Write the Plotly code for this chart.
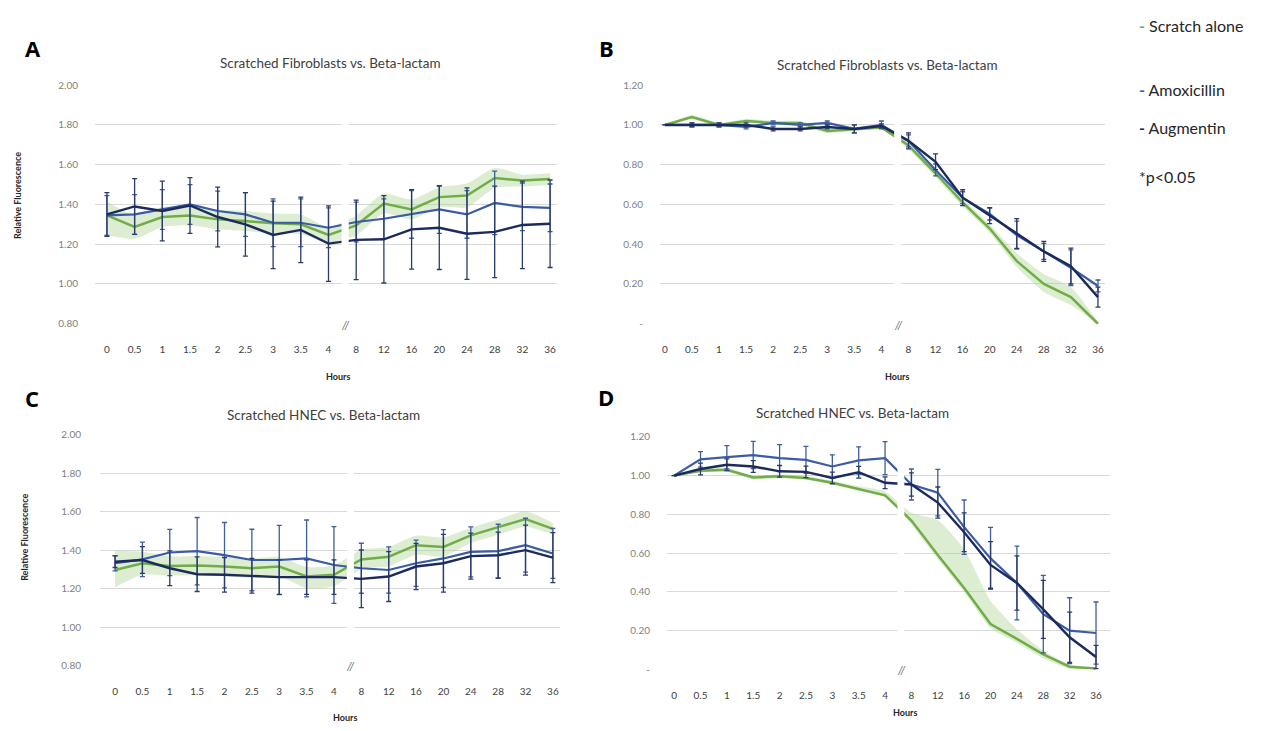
import plotly.graph_objects as go

W, H = 1280, 731

hours = ["0", "0.5", "1", "1.5", "2", "2.5", "3", "3.5", "4",
         "8", "12", "16", "20", "24", "28", "32", "36"]

# Panel A - Scratched Fibroblasts (0.80 - 2.00)
a_scratch = [1.345, 1.287, 1.337, 1.345, 1.325, 1.317, 1.305, 1.300, 1.247,
             1.295, 1.405, 1.375, 1.437, 1.445, 1.533, 1.520, 1.528]
a_scratch_up = [0.07, 0.06, 0.05, 0.05, 0.05, 0.05, 0.05, 0.05, 0.04,
                0.05, 0.05, 0.05, 0.05, 0.06, 0.05, 0.03, 0.03]
a_scratch_dn = [0.10, 0.06, 0.05, 0.05, 0.05, 0.05, 0.05, 0.05, 0.04,
                0.05, 0.05, 0.05, 0.05, 0.06, 0.05, 0.03, 0.03]
a_amox = [1.345, 1.350, 1.375, 1.400, 1.367, 1.350, 1.308, 1.308, 1.283,
          1.312, 1.328, 1.350, 1.375, 1.350, 1.408, 1.388, 1.383]
a_amox_err = [0.10, 0.10, 0.10, 0.10, 0.10, 0.11, 0.12, 0.12, 0.10,
              0.10, 0.10, 0.12, 0.12, 0.12, 0.16, 0.12, 0.12]
a_aug = [1.350, 1.390, 1.367, 1.395, 1.337, 1.300, 1.247, 1.272, 1.203,
         1.222, 1.225, 1.275, 1.283, 1.253, 1.262, 1.297, 1.303]
a_aug_err = [0.11, 0.14, 0.15, 0.14, 0.15, 0.16, 0.17, 0.165, 0.19,
             0.20, 0.22, 0.20, 0.21, 0.23, 0.23, 0.22, 0.22]

# Panel B - Scratched Fibroblasts (0 - 1.20)
b_scratch = [1.00, 1.04, 1.00, 1.02, 1.01, 1.01, 0.97, 0.98, 0.987,
             0.897, 0.757, 0.610, 0.479, 0.315, 0.200, 0.134, 0.00]
b_scratch_up = [0.0, 0.01, 0.01, 0.01, 0.01, 0.01, 0.01, 0.01, 0.01,
                0.02, 0.02, 0.02, 0.02, 0.04, 0.05, 0.05, 0.01]
b_scratch_dn = [0.0, 0.01, 0.01, 0.01, 0.01, 0.01, 0.01, 0.01, 0.01,
                0.02, 0.02, 0.02, 0.02, 0.03, 0.04, 0.04, 0.0]
b_amox = [1.00, 1.00, 1.00, 0.99, 1.01, 1.00, 1.01, 0.98, 1.00,
          0.92, 0.774, 0.634, 0.552, 0.446, 0.364, 0.282, 0.19]
b_amox_err = [0.0, 0.01, 0.01, 0.01, 0.01, 0.01, 0.01, 0.02, 0.02,
              0.03, 0.03, 0.03, 0.03, 0.07, 0.04, 0.09, 0.03]
b_aug = [1.00, 1.00, 1.00, 1.00, 0.98, 0.98, 0.99, 0.98, 0.995,
         0.92, 0.815, 0.634, 0.544, 0.454, 0.364, 0.29, 0.134]
b_aug_err = [0.0, 0.01, 0.01, 0.01, 0.01, 0.01, 0.01, 0.02, 0.01,
             0.04, 0.04, 0.04, 0.04, 0.075, 0.05, 0.09, 0.05]

# Panel C - Scratched HNEC (0.80 - 2.00)
c_scratch = [1.297, 1.332, 1.318, 1.320, 1.315, 1.306, 1.315, 1.263, 1.272,
             1.352, 1.366, 1.426, 1.417, 1.477, 1.520, 1.562, 1.511]
c_scratch_up = [0.10, 0.06, 0.05, 0.05, 0.05, 0.05, 0.05, 0.05, 0.05,
                0.05, 0.05, 0.05, 0.05, 0.04, 0.04, 0.04, 0.03]
c_scratch_dn = [0.09, 0.06, 0.05, 0.05, 0.05, 0.05, 0.05, 0.06, 0.06,
                0.05, 0.05, 0.05, 0.05, 0.04, 0.04, 0.04, 0.03]
c_amox = [1.332, 1.352, 1.388, 1.395, 1.374, 1.349, 1.349, 1.357, 1.323,
          1.306, 1.297, 1.332, 1.357, 1.391, 1.395, 1.426, 1.383]
c_amox_err = [0.04, 0.09, 0.12, 0.175, 0.17, 0.16, 0.18, 0.20, 0.20,
              0.13, 0.12, 0.12, 0.15, 0.13, 0.14, 0.14, 0.13]
c_aug = [1.340, 1.349, 1.306, 1.275, 1.272, 1.267, 1.260, 1.260, 1.260,
         1.251, 1.263, 1.315, 1.332, 1.369, 1.374, 1.400, 1.361]
c_aug_err = [0.03, 0.07, 0.09, 0.09, 0.09, 0.09, 0.09, 0.09, 0.09,
             0.15, 0.13, 0.12, 0.15, 0.12, 0.12, 0.13, 0.13]

# Panel D - Scratched HNEC (0 - 1.20)
d_scratch = [1.00, 1.025, 1.03, 0.99, 0.997, 0.988, 0.963, 0.93, 0.898,
             0.768, 0.59, 0.42, 0.234, 0.158, 0.078, 0.014, 0.005]
d_scratch_up = [0.0, 0.01, 0.01, 0.01, 0.01, 0.01, 0.01, 0.015, 0.02,
                0.04, 0.18, 0.20, 0.12, 0.05, 0.02, 0.01, 0.0]
d_scratch_dn = [0.0, 0.01, 0.01, 0.01, 0.01, 0.01, 0.01, 0.01, 0.01,
                0.02, 0.02, 0.02, 0.02, 0.02, 0.02, 0.01, 0.0]
d_amox = [1.00, 1.084, 1.095, 1.106, 1.09, 1.081, 1.047, 1.078, 1.09,
          0.954, 0.912, 0.734, 0.573, 0.446, 0.285, 0.20, 0.188]
d_amox_err = [0.0, 0.04, 0.06, 0.07, 0.07, 0.07, 0.06, 0.07, 0.085,
              0.08, 0.12, 0.14, 0.16, 0.19, 0.20, 0.17, 0.16]
d_aug = [1.00, 1.034, 1.056, 1.047, 1.022, 1.019, 0.988, 1.017, 0.963,
         0.954, 0.861, 0.708, 0.539, 0.446, 0.31, 0.166, 0.064]
d_aug_err = [0.0, 0.03, 0.03, 0.03, 0.03, 0.03, 0.03, 0.03, 0.03,
             0.06, 0.08, 0.10, 0.12, 0.14, 0.15, 0.13, 0.06]

GREEN = "#70AD47"
BAND = "rgba(169,209,142,0.40)"
AMOX = "#3A5BA6"
AUG = "#1C2B5C"
ERR_AMOX = "#3F5E9C"
ERR_AUG = "#2A3B6B"
GRID = "#D9D9D9"
FONT = "Lato"

idx = list(range(len(hours)))

fig = go.Figure()

panels = [
    ("x", "y", a_scratch, a_scratch_up, a_scratch_dn, a_amox, a_amox_err, a_aug, a_aug_err),
    ("x2", "y2", b_scratch, b_scratch_up, b_scratch_dn, b_amox, b_amox_err, b_aug, b_aug_err),
    ("x3", "y3", c_scratch, c_scratch_up, c_scratch_dn, c_amox, c_amox_err, c_aug, c_aug_err),
    ("x4", "y4", d_scratch, d_scratch_up, d_scratch_dn, d_amox, d_amox_err, d_aug, d_aug_err),
]

for xa, ya, sc, up, dn, am, ame, au, aue in panels:
    fig.add_trace(go.Scatter(x=idx, y=[v + e for v, e in zip(sc, up)], xaxis=xa, yaxis=ya,
                             mode="lines", line=dict(width=0, color=BAND, shape="spline", smoothing=0.6),
                             showlegend=False, hoverinfo="skip"))
    fig.add_trace(go.Scatter(x=idx, y=[v - e for v, e in zip(sc, dn)], xaxis=xa, yaxis=ya,
                             mode="lines", line=dict(width=0, color=BAND, shape="spline", smoothing=0.6),
                             fill="tonexty", fillcolor=BAND, showlegend=False, hoverinfo="skip"))
    fig.add_trace(go.Scatter(x=idx, y=sc, xaxis=xa, yaxis=ya, mode="lines",
                             line=dict(color=GREEN, width=2.5), name="Scratch alone", showlegend=False))
    fig.add_trace(go.Scatter(x=idx, y=am, xaxis=xa, yaxis=ya, mode="lines",
                             line=dict(color=AMOX, width=2.2), name="Amoxicillin", showlegend=False,
                             error_y=dict(type="data", array=ame, visible=True, color=ERR_AMOX,
                                          thickness=1.3, width=2.5)))
    fig.add_trace(go.Scatter(x=idx, y=au, xaxis=xa, yaxis=ya, mode="lines",
                             line=dict(color=AUG, width=2.4), name="Augmentin", showlegend=False,
                             error_y=dict(type="data", array=aue, visible=True, color=ERR_AUG,
                                          thickness=1.3, width=2.5)))


def xdom(l, r):
    return [l / W, r / W]


def ydom(top, bottom):
    return [1 - bottom / H, 1 - top / H]


def xaxis_cfg(dom, rng, anchor):
    return dict(domain=dom, range=rng, anchor=anchor, tickmode="array", tickvals=idx,
                ticktext=hours, ticks="outside", ticklen=16, tickcolor="rgba(0,0,0,0)",
                showgrid=False, zeroline=False, showline=False, fixedrange=True,
                tickfont=dict(family=FONT, size=10, color="#404040"))


def yaxis_cfg(dom, vals, texts, rng, anchor, ticklen):
    return dict(domain=dom, range=rng, anchor=anchor, tickmode="array", tickvals=vals,
                ticktext=texts, ticks="outside", ticklen=ticklen, tickcolor="rgba(0,0,0,0)",
                showgrid=True, gridcolor=GRID, gridwidth=1, zeroline=False, showline=False,
                tickfont=dict(family=FONT, size=10, color="#7F7F7F"))


high_vals = [0.8, 1.0, 1.2, 1.4, 1.6, 1.8, 2.0]
high_text = ["%.2f" % v for v in high_vals]
low_vals = [0.0, 0.2, 0.4, 0.6, 0.8, 1.0, 1.2]
low_text = ["-" if v == 0 else "%.2f" % v for v in low_vals]

fig.update_layout(
    width=W, height=H, margin=dict(l=0, r=0, t=0, b=0),
    paper_bgcolor="white", plot_bgcolor="white", showlegend=False,
    xaxis=xaxis_cfg(xdom(95, 557), [-0.43, 16.25], "y"),
    yaxis=yaxis_cfg(ydom(80, 323), high_vals, high_text, [0.798, 2.002], "x", 14),
    xaxis2=xaxis_cfg(xdom(660, 1105), [-0.18, 16.26], "y2"),
    yaxis2=yaxis_cfg(ydom(80, 323), low_vals, low_text, [-0.002, 1.202], "x2", 14),
    xaxis3=xaxis_cfg(xdom(100, 560), [-0.55, 16.26], "y3"),
    yaxis3=yaxis_cfg(ydom(435, 670), high_vals, high_text, [0.798, 2.002], "x3", 16),
    xaxis4=xaxis_cfg(xdom(667, 1110), [-0.27, 16.53], "y4"),
    yaxis4=yaxis_cfg(ydom(437, 674), low_vals, low_text, [-0.002, 1.202], "x4", 14),
)

# axis break: white gap between "4" and "8" plus a "//" mark
for xa, ya in [("x", "y"), ("x2", "y2"), ("x3", "y3"), ("x4", "y4")]:
    fig.add_shape(type="rect", xref=xa, yref=ya + " domain", x0=8.47, x1=8.73, y0=0.012, y1=0.985,
                  fillcolor="white", line=dict(width=0), layer="above")
    fig.add_annotation(xref=xa, yref=ya + " domain", x=8.6, y=0, text="<i>//</i>", showarrow=False,
                       font=dict(family=FONT, size=11, color="#595959"), yanchor="middle")


def ann(text, x, y, size, color="#404040", bold=False, angle=0, xanchor="center", family=FONT):
    fig.add_annotation(xref="paper", yref="paper", x=x / W, y=1 - y / H,
                       text=("<b>%s</b>" % text) if bold else text, showarrow=False,
                       xanchor=xanchor, yanchor="middle", textangle=angle,
                       font=dict(family=family, size=size, color=color))


ann("Scratched Fibroblasts vs. Beta-lactam", 330, 58, 13.5)
ann("Scratched Fibroblasts vs. Beta-lactam", 887, 60, 13.5)
ann("Scratched HNEC vs. Beta-lactam", 323, 415, 13.5)
ann("Scratched HNEC vs. Beta-lactam", 852, 413, 13.5)

ann("A", 33, 43, 22, color="#000000", bold=True, family="Open Sans")
ann("B", 606, 43, 22, color="#000000", bold=True, family="Open Sans")
ann("C", 32, 398, 22, color="#000000", bold=True, family="Open Sans")
ann("D", 606, 397, 22, color="#000000", bold=True, family="Open Sans")

ann("Relative Fluorescence", 17, 193, 9, color="#262626", bold=True, angle=-90)
ann("Relative Fluorescence", 25, 540, 9, color="#262626", bold=True, angle=-90)

ann("Hours", 338, 376, 9, color="#262626", bold=True)
ann("Hours", 897, 376, 9, color="#262626", bold=True)
ann("Hours", 345, 722, 9, color="#262626", bold=True)
ann("Hours", 905, 717, 9, color="#262626", bold=True)

DASH = "<span style='color:%s'><b>-</b></span> "
ann((DASH % GREEN) + "Scratch alone", 1137, 20, 16, color="#262626", xanchor="left")
ann((DASH % AMOX) + "Amoxicillin", 1137, 85, 16, color="#262626", xanchor="left")
ann((DASH % AUG) + "Augmentin", 1137, 123, 16, color="#262626", xanchor="left")
ann("*p&lt;0.05", 1137, 173, 16, color="#262626", xanchor="left")

fig.write_html("out.html")
